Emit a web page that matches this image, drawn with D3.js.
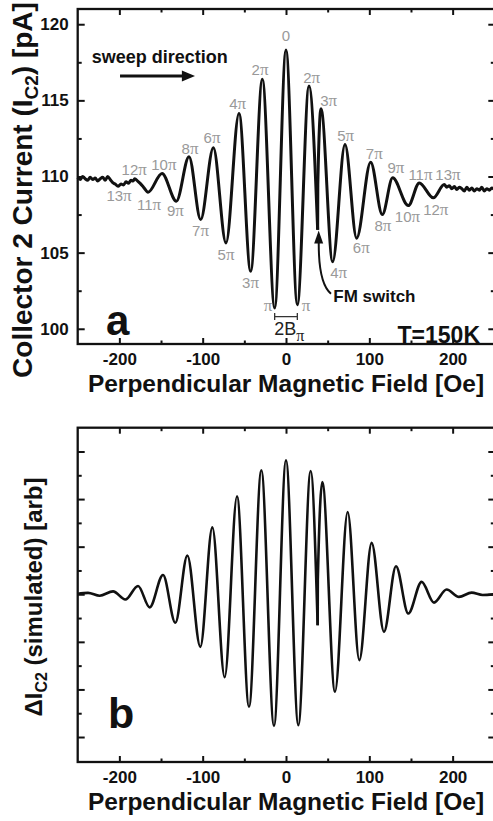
<!DOCTYPE html>
<html>
<head>
<meta charset="utf-8">
<script src="https://cdn.jsdelivr.net/npm/d3@7"></script>
<style>
  body { margin: 0; background: #fff; }
  svg { display: block; }
  text { font-family: "Liberation Sans", Arial, Helvetica, sans-serif; }
</style>
</head>
<body>
<div class="chart"></div>
<script>
// ticks
const fieldTicks = [-200, -100, 0, 100, 200];
const fieldMinorTicks = [-150, -50, 50, 150];
const currentTicks = [100, 105, 110, 115, 120];
const currentMinorTicks = [102.5, 107.5, 112.5, 117.5];
const simTicks = [-6, -4, -2, 0, 2, 4, 6];
const simMinorTicks = [-5, -3, -1, 1, 3, 5];

// panel a: measured current, before and after the FM switch (Oe, pA)
const measuredField1 = [-250, -247, -244, -241, -238, -235, -232, -229, -226, -223, -220, -217, -214, -211, -208, -205,
  -201.6, -198, -195, -192, -189, -186, -183.5, -181.6, -178, -175, -171, -165.6, -148.8, -131.6, -116.4, -102.4,
  -87.2, -72, -56.4, -42.4, -28.4, -13.6, 0, 13.6, 27.6, 38];
const measuredCurrent1 = [109.95, 109.8, 110.0, 109.85, 109.75, 109.95, 109.8, 109.9, 109.7, 109.85, 109.95, 109.75, 110.0, 109.8, 109.6, 109.5,
  109.36, 109.5, 109.45, 109.65, 109.55, 109.75, 109.7, 109.85, 109.7, 109.55, 109.3, 108.97, 110.2, 108.38, 111.3, 107.17,
  111.89, 105.64, 114.14, 103.77, 116.38, 101.36, 118.31, 101.58, 115.94, 106.5];
const measuredField2 = [38, 38.2, 42, 56, 70.8, 84.8, 101.6, 115.6, 128, 146.8, 160, 176.8, 190,
  193, 196, 199, 202, 205, 208, 211, 214, 217, 220, 223, 226, 229, 232, 235, 238, 241, 244, 247, 250];
const measuredCurrent2 = [106.5, 109.5, 114.45, 104.4, 112.1, 105.95, 110.94, 107.5, 109.91, 108.09, 109.58, 108.6, 109.47,
  109.3, 109.4, 109.2, 109.35, 109.15, 109.3, 109.2, 109.05, 109.3, 109.1, 109.25, 109.05, 109.2, 109.1, 109.3, 109.05, 109.2, 109.1, 109.25, 109.15];

// panel b: simulated signal (arb)
const simField1 = [-250, -237.6, -223.6, -207.6, -192.8, -177.6, -163.6, -147.6, -132.8, -118.4, -102.8, -88.4,
  -73.6, -58.8, -44.4, -29.6, -14.4, 0, 14.8, 29.6, 38];
const simValue1 = [0.02, 0.06, -0.06, 0.12, -0.22, 0.35, -0.55, 0.81, -1.2, 1.63, -2.21, 2.81,
  -3.49, 4.12, -4.73, 5.21, -5.53, 5.63, -5.5, 5.18, -1.3];
const simField2 = [38, 38.2, 43.6, 58.8, 74, 88, 102.8, 117.6, 132, 146.8, 162.8, 177.6, 192.8, 207.6, 222.8, 236, 250];
const simValue2 = [-1.3, 0.6, 4.72, -4.1, 3.46, -2.77, 2.16, -1.58, 1.18, -0.81, 0.52, -0.35, 0.2, -0.11, 0.07, -0.03, 0.0];

// phase labels of panel a (number part, field, current)
const labelNumber = ["0", "2", "4", "6", "8", "10", "12", "2", "3", "5", "7", "9", "11", "13",
  "13", "11", "9", "7", "5", "3", "", "", "4", "6", "8", "10", "12"];
const labelField = [0, -31.2, -58, -88.8, -115.2, -146.6, -182.2, 30.8, 51.2, 71.6, 106, 132, 161.4, 194.4,
  -200.4, -164.4, -132.8, -102.6, -72, -42.6, -21.6, 24, 63.2, 90.4, 116.4, 145.8, 179.8];
const labelCurrent = [118.88, 116.64, 114.41, 112.17, 111.5, 110.45, 110.07, 116.16, 114.63, 112.32, 111.12, 110.24, 109.8, 109.8,
  108.42, 107.83, 107.39, 106.07, 104.54, 102.68, 101.14, 101.14, 103.34, 104.98, 106.4, 106.99, 107.5];

const width = 493;
const height = 821;
const ink = "#111";

const svg = d3
  .select(".chart")
  .append("svg")
  .attr("width", width)
  .attr("height", height);

const x = d3.scaleLinear().domain([-250, 250]).range([77.7, 494.3]);
const yA = d3.scaleLinear().domain([99, 121]).range([344, 9]);
const yB = d3.scaleLinear().domain([-7.05, 7]).range([762, 427.7]);

const plain = (d) => String(d); // hyphen minus like the original

function drawFrame(y, yMajor, yMinor, showY, xPad) {
  const [bottom, top] = y.range();
  const g = svg.append("g");

  const axes = [
    [d3.axisBottom(x).tickValues(fieldTicks).tickSize(-6).tickPadding(xPad).tickFormat(plain), bottom],
    [d3.axisBottom(x).tickValues(fieldMinorTicks).tickSize(-3.5).tickFormat(""), bottom],
    [d3.axisTop(x).tickValues(fieldTicks).tickSize(-6).tickFormat(""), top],
    [d3.axisTop(x).tickValues(fieldMinorTicks).tickSize(-3.5).tickFormat(""), top],
  ];
  axes.forEach(([ax, ty]) => {
    g.append("g").attr("transform", `translate(0,${ty})`).call(ax);
  });

  const left = d3.axisLeft(y).tickValues(yMajor).tickSize(-7).tickPadding(9).tickFormat(plain);
  if (!showY) left.tickFormat("");
  g.append("g").attr("transform", `translate(${x.range()[0]},0)`).call(left);
  g.append("g").attr("transform", `translate(${x.range()[0]},0)`)
    .call(d3.axisLeft(y).tickValues(yMinor).tickSize(-4).tickFormat(""));
  g.append("g").attr("transform", `translate(${x.range()[1]},0)`)
    .call(d3.axisRight(y).tickValues(yMajor).tickSize(-6).tickFormat(""));
  g.append("g").attr("transform", `translate(${x.range()[1]},0)`)
    .call(d3.axisRight(y).tickValues(yMinor).tickSize(-3.5).tickFormat(""));

  g.selectAll(".domain").remove();
  g.selectAll(".tick line").attr("stroke", ink).attr("stroke-width", 2);
  g.selectAll(".tick text")
    .attr("fill", ink)
    .attr("font-size", 17)
    .attr("font-weight", "bold")
    .attr("font-family", '"Liberation Sans", Arial, sans-serif');

  g.append("rect")
    .attr("x", x.range()[0])
    .attr("y", top)
    .attr("width", x.range()[1] - x.range()[0])
    .attr("height", bottom - top)
    .attr("fill", "none")
    .attr("stroke", ink)
    .attr("stroke-width", 2.3);
}

function drawCurve(y, xs, ys, w) {
  const pts = xs.map((d, i) => [d, ys[i]]);
  const line = d3.line()
    .x((d) => x(d[0]))
    .y((d) => y(d[1]))
    .curve(d3.curveMonotoneX);
  svg.append("path")
    .attr("d", line(pts))
    .attr("fill", "none")
    .attr("stroke", ink)
    .attr("stroke-width", w)
    .attr("stroke-linejoin", "round");
}

// ---------- panel a ----------
drawCurve(yA, measuredField1, measuredCurrent1, 3);
drawCurve(yA, measuredField2, measuredCurrent2, 3);
drawFrame(yA, currentTicks, currentMinorTicks, true, 9);

const labels = svg.append("g")
  .attr("fill", "#999")
  .attr("text-anchor", "middle")
  .attr("font-size", 15);
labelNumber.forEach((n, i) => {
  const t = labels.append("text")
    .attr("x", x(labelField[i]))
    .attr("y", yA(labelCurrent[i]));
  t.append("tspan").text(n);
  if (n !== "0") {
    t.append("tspan")
      .attr("font-family", '"Liberation Serif", "Times New Roman", serif')
      .attr("font-size", 17)
      .text("π");
  }
});

// 2B_pi bracket between the two pi minima
const by = yA(100.8);
svg.append("path")
  .attr("d", `M${x(-13.6)},${by - 3.5}V${by + 3.5}M${x(-13.6)},${by}H${x(13.6)}M${x(13.6)},${by - 3.5}V${by + 3.5}`)
  .attr("stroke", "#333")
  .attr("stroke-width", 1.3)
  .attr("fill", "none");
const bt = svg.append("text")
  .attr("x", x(-14.2))
  .attr("y", yA(99.6))
  .attr("fill", "#222")
  .attr("font-size", 18);
bt.append("tspan").text("2B");
bt.append("tspan")
  .attr("dy", 6)
  .attr("font-family", '"Liberation Serif", serif')
  .attr("font-size", 16)
  .text("π");

// sweep direction
svg.append("text")
  .attr("x", x(-233.2))
  .attr("y", yA(117.48))
  .attr("font-size", 18)
  .attr("font-weight", "bold")
  .attr("fill", ink)
  .text("sweep direction");
const ay = yA(116.6);
svg.append("line")
  .attr("x1", x(-199.2)).attr("y1", ay)
  .attr("x2", x(-122)).attr("y2", ay)
  .attr("stroke", ink)
  .attr("stroke-width", 3);
svg.append("path")
  .attr("d", `M${x(-109.2)},${ay}L${x(-125)},${ay - 5.5}L${x(-125)},${ay + 5.5}Z`)
  .attr("fill", ink);

// FM switch
svg.append("text")
  .attr("x", x(56.8))
  .attr("y", yA(101.73))
  .attr("font-size", 17)
  .attr("font-weight", "bold")
  .attr("fill", ink)
  .text("FM switch");
svg.append("path")
  .attr("d", `M${x(54)},${yA(102.3)}C${x(43)},${yA(102.8)} ${x(38.6)},${yA(104.2)} ${x(39.4)},${yA(106.0)}`)
  .attr("fill", "none")
  .attr("stroke", ink)
  .attr("stroke-width", 2);
const tipX = x(39.2), tipY = yA(106.45);
svg.append("path")
  .attr("d", `M${tipX},${tipY}L${tipX - 4.5},${tipY + 13}L${tipX + 4.5},${tipY + 13}Z`)
  .attr("fill", ink);

svg.append("text")
  .attr("x", 106)
  .attr("y", yA(99.6))
  .attr("font-size", 42)
  .attr("font-weight", "bold")
  .attr("fill", ink)
  .text("a");

svg.append("text")
  .attr("x", 480)
  .attr("y", yA(99.05))
  .attr("text-anchor", "end")
  .attr("font-size", 23)
  .attr("font-weight", "bold")
  .attr("fill", ink)
  .text("T=150K");

// axis titles a
svg.append("text")
  .attr("x", 286)
  .attr("y", 392)
  .attr("text-anchor", "middle")
  .attr("font-size", 24.5)
  .attr("font-weight", "bold")
  .attr("fill", ink)
  .text("Perpendicular Magnetic Field [Oe]");

const ta = svg.append("text")
  .attr("transform", "translate(32,190) rotate(-90)")
  .attr("text-anchor", "middle")
  .attr("font-size", 28)
  .attr("font-weight", "bold")
  .attr("fill", ink);
ta.append("tspan").text("Collector 2 Current (I");
ta.append("tspan").attr("font-size", 19).attr("dy", 6).text("C2");
ta.append("tspan").attr("dy", -6).text(") [pA]");

// ---------- panel b ----------
drawCurve(yB, simField1, simValue1, 2.6);
drawCurve(yB, simField2, simValue2, 2.6);
drawFrame(yB, simTicks, simMinorTicks, false, 9);

svg.append("text")
  .attr("x", 108)
  .attr("y", 728)
  .attr("font-size", 43)
  .attr("font-weight", "bold")
  .attr("fill", ink)
  .text("b");

svg.append("text")
  .attr("x", 286)
  .attr("y", 810)
  .attr("text-anchor", "middle")
  .attr("font-size", 24.5)
  .attr("font-weight", "bold")
  .attr("fill", ink)
  .text("Perpendicular Magnetic Field [Oe]");

const tb = svg.append("text")
  .attr("transform", "translate(42,597) rotate(-90)")
  .attr("text-anchor", "middle")
  .attr("font-size", 24)
  .attr("font-weight", "bold")
  .attr("fill", ink);
tb.append("tspan").text("ΔI");
tb.append("tspan").attr("font-size", 16).attr("dy", 5).text("C2");
tb.append("tspan").attr("dy", -5).text(" (simulated) [arb]");
</script>
</body>
</html>
